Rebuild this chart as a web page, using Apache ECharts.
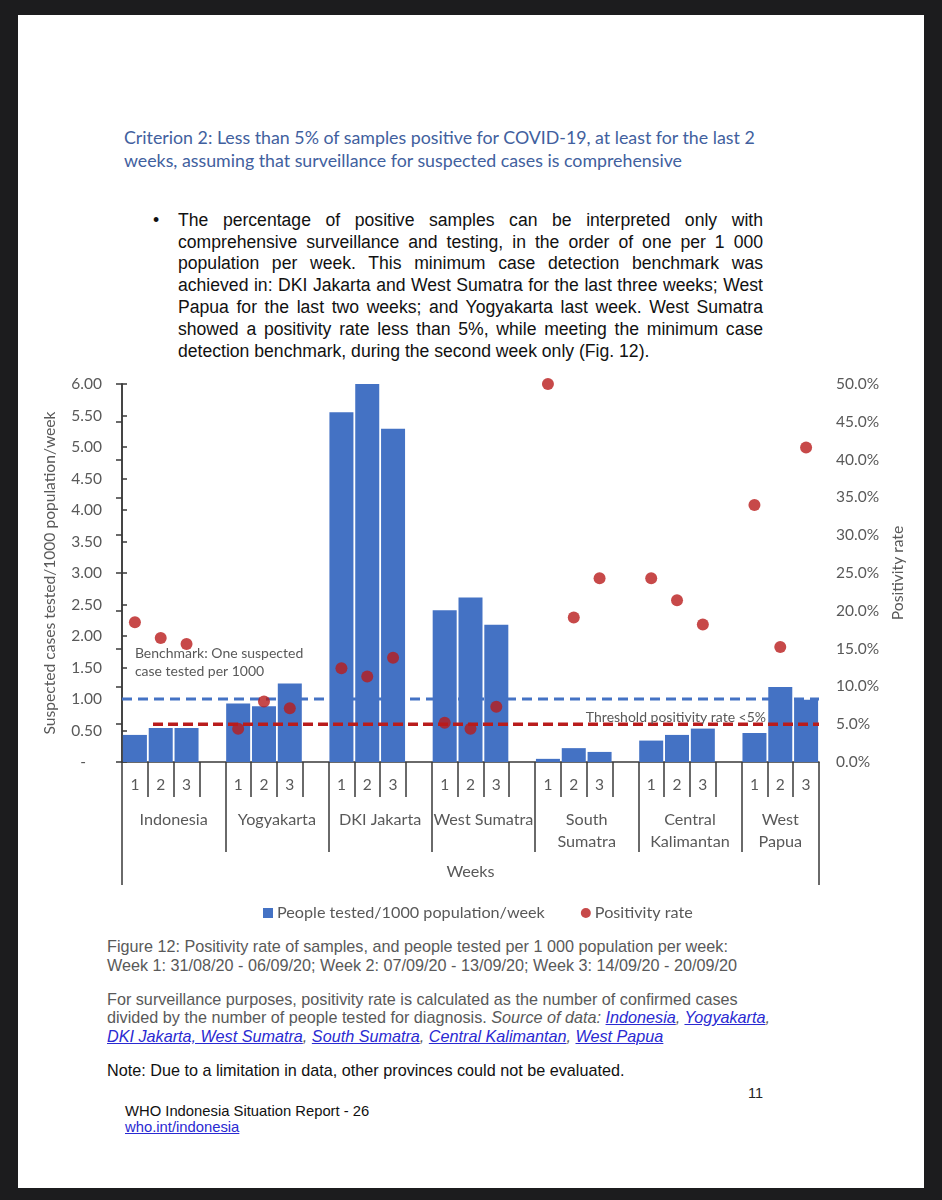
<!DOCTYPE html>
<html><head><meta charset="utf-8">
<script src="https://cdn.jsdelivr.net/npm/echarts@6/dist/echarts.min.js"></script>
<style>
html,body{margin:0;padding:0;background:#1c1c1e;width:942px;height:1200px;overflow:hidden;}
#page{position:absolute;left:18px;top:15px;width:906px;height:1173px;background:#fff;}
.t{position:absolute;white-space:nowrap;z-index:2;}
.title{font-family:Lato,sans-serif;font-size:17.8px;color:#41609e;line-height:23px;left:124px;}
.body{font-family:"Liberation Sans",Arial,sans-serif;font-size:17.6px;color:#111;line-height:21.8px;left:178px;width:585px;}
.body div{text-align:justify;text-align-last:justify;white-space:nowrap;}
.body div.last{text-align-last:left;}
.cap{font-family:"Liberation Sans",Arial,sans-serif;font-size:16.2px;color:#595959;left:107px;}
.cap a{color:#2a2ad2;text-decoration:underline;}
.cap i{font-style:italic;}
#chart{position:absolute;left:0;top:370px;width:942px;height:560px;z-index:3;}
</style></head>
<body>
<div id="page"></div>
<div class="t title" style="top:125.5px;">Criterion 2: Less than 5% of samples positive for COVID-19, at least for the last 2<br>weeks, assuming that surveillance for suspected cases is comprehensive</div>
<div class="t" style="left:153px;top:209.8px;font-family:'Liberation Sans',Arial,sans-serif;font-size:17.6px;line-height:21.8px;color:#111;">•</div>
<div class="t body" style="top:209.8px;">
<div>The percentage of positive samples can be interpreted only with</div>
<div>comprehensive surveillance and testing, in the order of one per 1 000</div>
<div>population per week. This minimum case detection benchmark was</div>
<div>achieved in: DKI Jakarta and West Sumatra for the last three weeks; West</div>
<div>Papua for the last two weeks; and Yogyakarta last week. West Sumatra</div>
<div>showed a positivity rate less than 5%, while meeting the minimum case</div>
<div class="last">detection benchmark, during the second week only (Fig. 12).</div>
</div>
<div id="chart"></div>
<div class="t cap" style="top:937px;line-height:18.5px;">Figure 12: Positivity rate of samples, and people tested per 1 000 population per week:<br>Week 1: 31/08/20 - 06/09/20; Week 2: 07/09/20 - 13/09/20; Week 3: 14/09/20 - 20/09/20</div>
<div class="t cap" style="top:989.7px;line-height:18.5px;">For surveillance purposes, positivity rate is calculated as the number of confirmed cases<br>divided by the number of people tested for diagnosis. <i>Source of data: <a>Indonesia</a>, <a>Yogyakarta</a>,</i><br><i><a>DKI Jakarta, West Sumatra</a>, <a>South Sumatra</a>, <a>Central Kalimantan</a>, <a>West Papua</a></i></div>
<div class="t cap" style="top:1060px;line-height:20px;color:#111;">Note: Due to a limitation in data, other provinces could not be evaluated.</div>
<div class="t cap" style="left:748px;top:1084px;line-height:18px;font-size:14.5px;color:#222;">11</div>
<div class="t cap" style="left:125px;top:1103px;line-height:16px;font-size:14.8px;color:#111;">WHO Indonesia Situation Report - 26<br><a style="color:#2a2ad2;">who.int/indonesia</a></div>
<script>
// ---- data ----
const groupNames = ['Indonesia', 'Yogyakarta', 'DKI Jakarta', 'West Sumatra', 'South\nSumatra', 'Central\nKalimantan', 'West\nPapua'];
const weekLabels = ['1', '2', '3'];
// people tested per 1000 population per week (3 weeks per group)
const testedPer1000 = [0.43, 0.54, 0.54, 0.93, 0.885, 1.245, 5.55, 6.0, 5.29, 2.41, 2.61, 2.18, 0.05, 0.22, 0.16, 0.34, 0.43, 0.53, 0.46, 1.19, 0.99];
// positivity rate, percent
const positivityRate = [18.5, 16.4, 15.6, 4.4, 8.0, 7.1, 12.4, 11.3, 13.8, 5.2, 4.4, 7.3, 50.0, 19.1, 24.3, 24.3, 21.4, 18.2, 34.0, 15.2, 41.6];
const benchmarkTested = 1.0;
const thresholdPositivity = 5.0;

// ---- build categories (3 weeks + a blank spacer per group, no spacer after the last) ----
const cats = [], catLabel = {}, barData = [], dotData = [];
const groupStart = [];
groupNames.forEach((g, gi) => {
  groupStart.push(cats.length);
  weekLabels.forEach((w, wi) => {
    const id = g + '|' + w;
    cats.push(id); catLabel[id] = w;
    barData.push(testedPer1000[gi * 3 + wi]);
    dotData.push(positivityRate[gi * 3 + wi]);
  });
  if (gi < groupNames.length - 1) {
    const id = g + '|gap';
    cats.push(id); catLabel[id] = '';
    barData.push(null); dotData.push(null);
  }
});
const N = cats.length;
const boundaries = groupStart.concat([N]);
const centers = groupNames.map((g, i) => (groupStart[i] + (i < groupNames.length - 1 ? groupStart[i + 1] : N)) / 2);

const FONT = 'Lato';
const GREY = '#595959';
const AX = '#3a3a3a';
const BLUE = '#4472C4';
const RED = '#B91C1C';

const chart = echarts.init(document.getElementById('chart'), null, {renderer: 'canvas'});
const option = {
  animation: false,
  textStyle: {fontFamily: FONT},
  grid: {left: 122, right: 123, top: 14, bottom: 168, containLabel: false},
  legend: {
    data: [{name: 'People tested/1000 population/week', icon: 'rect'}, {name: 'Positivity rate', icon: 'circle'}],
    left: 258, top: 530, itemWidth: 10, itemHeight: 10, itemGap: 36,
    textStyle: {fontFamily: FONT, fontSize: 16.2, color: GREY, padding: [0, 0, 0, -1]}
  },
  xAxis: [
    {
      type: 'category', data: cats, boundaryGap: true,
      axisLine: {show: true, lineStyle: {color: AX, width: 1.5}},
      axisTick: {show: true, interval: 0, length: 35, lineStyle: {color: AX, width: 1.5}},
      axisLabel: {interval: 0, margin: 15, fontSize: 15.5, color: GREY, fontFamily: FONT, formatter: v => catLabel[v]},
      splitLine: {show: false}
    },
    {
      type: 'value', min: 0, max: N, position: 'bottom',
      axisLine: {show: false}, splitLine: {show: false},
      axisTick: {show: true, customValues: boundaries, length: 90, lineStyle: {color: AX, width: 1.5}},
      axisLabel: {
        show: true, customValues: centers, margin: 47, fontSize: 16.2, lineHeight: 22, color: GREY, fontFamily: FONT, align: 'center',
        formatter: v => { const i = centers.findIndex(c => Math.abs(c - v) < 1e-6); return i >= 0 ? groupNames[i] : ''; }
      }
    },
    {
      type: 'value', min: 0, max: N, position: 'bottom',
      axisLine: {show: false}, splitLine: {show: false},
      axisTick: {show: true, customValues: [0, N], length: 123, lineStyle: {color: AX, width: 1.5}},
      axisLabel: {show: true, customValues: [N / 2], margin: 102, fontSize: 16.2, color: GREY, fontFamily: FONT, formatter: () => 'Weeks'}
    }
  ],
  yAxis: [
    {
      type: 'value', min: 0, max: 6, interval: 0.5, position: 'left',
      name: 'Suspected cases tested/1000 population/week', nameLocation: 'middle', nameGap: 64, nameRotate: 90,
      nameTextStyle: {fontSize: 15.6, color: GREY, fontFamily: FONT},
      axisLine: {show: true, lineStyle: {color: AX, width: 1.5}},
      axisTick: {show: true, inside: true, length: 5, lineStyle: {color: AX, width: 1.5}},
      axisLabel: {margin: 20, fontSize: 15.5, color: GREY, fontFamily: FONT, formatter: v => v === 0 ? '-    ' : v.toFixed(2)},
      splitLine: {show: false}
    },
    {
      type: 'value', min: 0, max: 50, interval: 5, position: 'right',
      name: 'Positivity rate', nameLocation: 'middle', nameGap: 69, nameRotate: 90,
      nameTextStyle: {fontSize: 15.6, color: GREY, fontFamily: FONT},
      axisLine: {show: true, lineStyle: {color: AX, width: 1.5}},
      axisTick: {show: true, inside: true, length: 6, lineStyle: {color: AX, width: 1.5}},
      axisLabel: {margin: 17, fontSize: 15.5, color: GREY, fontFamily: FONT, formatter: v => v.toFixed(1) + '%'},
      splitLine: {show: false}
    }
  ],
  series: [
    {
      name: 'Benchmark', type: 'line', xAxisIndex: 1, yAxisIndex: 0, z: 1, silent: true, symbol: 'none',
      data: [[0, benchmarkTested], [N, benchmarkTested]],
      lineStyle: {color: BLUE, width: 3, type: [10, 6]}
    },
    {
      name: 'People tested/1000 population/week', type: 'bar', xAxisIndex: 0, yAxisIndex: 0, z: 2,
      data: barData, barCategoryGap: '7%', itemStyle: {color: BLUE}
    },
    {
      name: 'Threshold', type: 'line', xAxisIndex: 1, yAxisIndex: 1, z: 3, silent: true, symbol: 'none',
      data: [[1.2, thresholdPositivity], [N, thresholdPositivity]],
      lineStyle: {color: RED, width: 3.5, type: [10, 5]}
    },
    {
      name: 'Positivity rate', type: 'scatter', xAxisIndex: 0, yAxisIndex: 1, z: 4,
      data: dotData, symbolSize: 12, itemStyle: {color: RED}
    }
  ]
};
chart.setOption(option);

// annotation labels anchored to data coordinates
const bx = chart.convertToPixel({xAxisIndex: 1}, 0.5);
const by = chart.convertToPixel({yAxisIndex: 0}, 1.73);
const tx = chart.convertToPixel({xAxisIndex: 1}, 24.95);
const ty = chart.convertToPixel({yAxisIndex: 1}, 5.9);
chart.setOption({
  graphic: [
    {type: 'text', left: bx, top: by - 9, z: 10, silent: true,
     style: {text: 'Benchmark: One suspected\ncase tested per 1000', fill: GREY, fontFamily: FONT, fontSize: 14, lineHeight: 18}},
    {type: 'text', x: tx, y: ty, z: 10, silent: true,
     style: {text: 'Threshold positivity rate <5%', fill: GREY, fontFamily: FONT, fontSize: 14, align: 'right', verticalAlign: 'middle'}}
  ]
});
</script>
</body></html>
